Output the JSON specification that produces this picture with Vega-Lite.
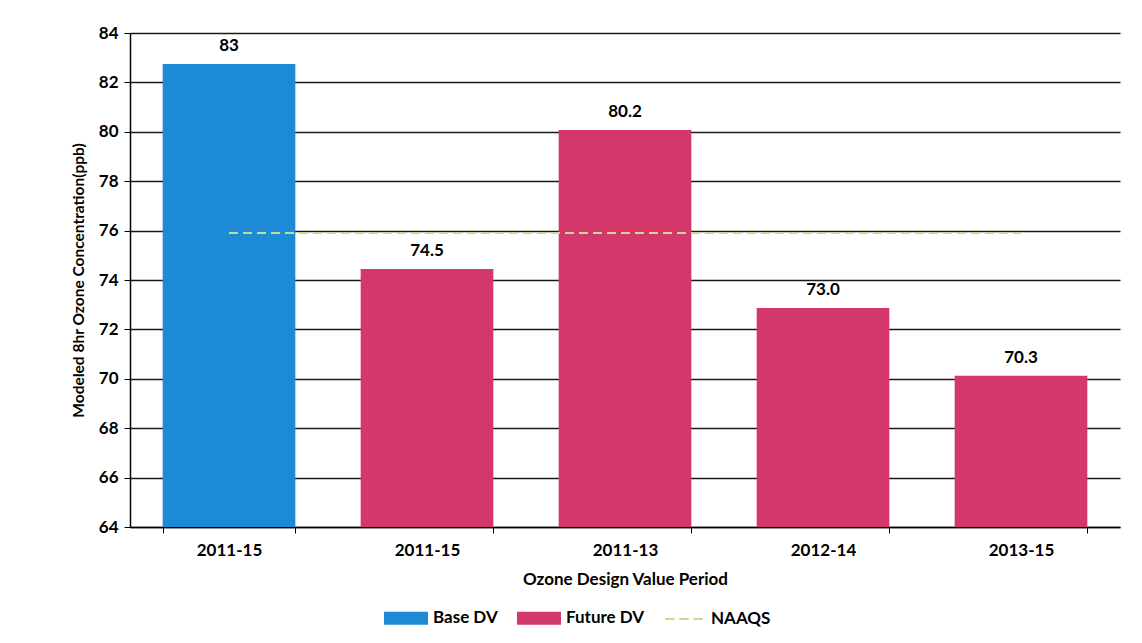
{
  "$schema": "https://vega.github.io/schema/vega-lite/v6.json",
  "width": 990,
  "height": 494,
  "autosize": "none",
  "padding": {"left": 130, "top": 33, "right": 22, "bottom": 116},
  "background": "white",
  "config": {
    "view": {"stroke": null},
    "font": "Lato",
    "axis": {"labelFont": "Lato", "titleFont": "Lato", "labelColor": "black", "titleColor": "black", "labelFontWeight": "bold", "titleFontWeight": "bold"}
  },
  "data": {
    "values": [
      {"slot": "1|2011-15", "type": "Base DV", "value": 82.75, "label": "83"},
      {"slot": "2|2011-15", "type": "Future DV", "value": 74.45, "label": "74.5"},
      {"slot": "3|2011-13", "type": "Future DV", "value": 80.07, "label": "80.2"},
      {"slot": "4|2012-14", "type": "Future DV", "value": 72.87, "label": "73.0"},
      {"slot": "5|2013-15", "type": "Future DV", "value": 70.12, "label": "70.3"}
    ]
  },
  "encoding": {
    "x": {
      "field": "slot",
      "type": "nominal",
      "sort": null,
      "scale": {"paddingInner": 0.33, "paddingOuter": 0.165},
      "axis": {
        "title": "Ozone Design Value Period",
        "titleFontSize": 17,
        "titlePadding": 13,
        "labelExpr": "split(datum.label, '|')[1]",
        "labelAngle": 0,
        "labelFontSize": 17,
        "labelPadding": 9,
        "tickBand": "extent",
        "tickColor": "black",
        "tickSize": 6,
        "domainColor": "black",
        "domainWidth": 1.5
      }
    }
  },
  "layer": [
    {
      "mark": {"type": "bar"},
      "encoding": {
        "y": {
          "field": "value",
          "type": "quantitative",
          "scale": {"domain": [64, 84], "zero": false, "nice": false},
          "axis": {
            "title": "Modeled 8hr Ozone Concentration(ppb)",
            "titleFontSize": 15.5,
            "titlePadding": 12,
            "values": [64, 66, 68, 70, 72, 74, 76, 78, 80, 82, 84],
            "labelFontSize": 17,
            "labelPadding": 6,
            "grid": true,
            "gridColor": "#1a1a1a",
            "gridWidth": 1.5,
            "tickColor": "black",
            "tickSize": 6,
            "domainColor": "black",
            "domainWidth": 1.5
          }
        },
        "y2": {"datum": 64},
        "color": {
          "field": "type",
          "type": "nominal",
          "scale": {"domain": ["Base DV", "Future DV", "NAAQS"], "range": ["#1d8ad6", "#d4386b", "#c3dc8e"]},
          "legend": {
            "title": null,
            "orient": "none",
            "legendX": 254,
            "legendY": 563,
            "direction": "horizontal",
            "labelFont": "Lato",
            "labelFontSize": 17,
            "labelFontWeight": "bold",
            "labelColor": "black",
            "labelOffset": 5,
            "columnPadding": 16,
            "symbolSize": 1764,
            "symbolType": "M-1,-0.262h2v0.524h-2z",
            "encode": {
              "symbols": {
                "update": {
                  "shape": {"signal": "datum.value === 'NAAQS' ? 'M-0.9,0h0.45M-0.225,0h0.45M0.45,0h0.45' : 'M-1,-0.262h2v0.524h-2z'"},
                  "fill": {"signal": "datum.value === 'NAAQS' ? 'transparent' : scale('color', datum.value)"},
                  "stroke": {"signal": "datum.value === 'NAAQS' ? '#c3dc8e' : 'transparent'"},
                  "strokeWidth": {"value": 2},
                  "opacity": {"value": 1}
                }
              }
            }
          }
        }
      }
    },
    {
      "mark": {"type": "text", "dy": -18, "fontSize": 17, "fontWeight": "bold", "font": "Lato", "color": "black"},
      "encoding": {
        "y": {"field": "value", "type": "quantitative"},
        "text": {"field": "label", "type": "nominal"}
      }
    },
    {
      "mark": {"type": "line", "strokeDash": [9, 5], "strokeWidth": 2},
      "encoding": {
        "y": {"datum": 75.9},
        "color": {"datum": "NAAQS"}
      }
    }
  ]
}
